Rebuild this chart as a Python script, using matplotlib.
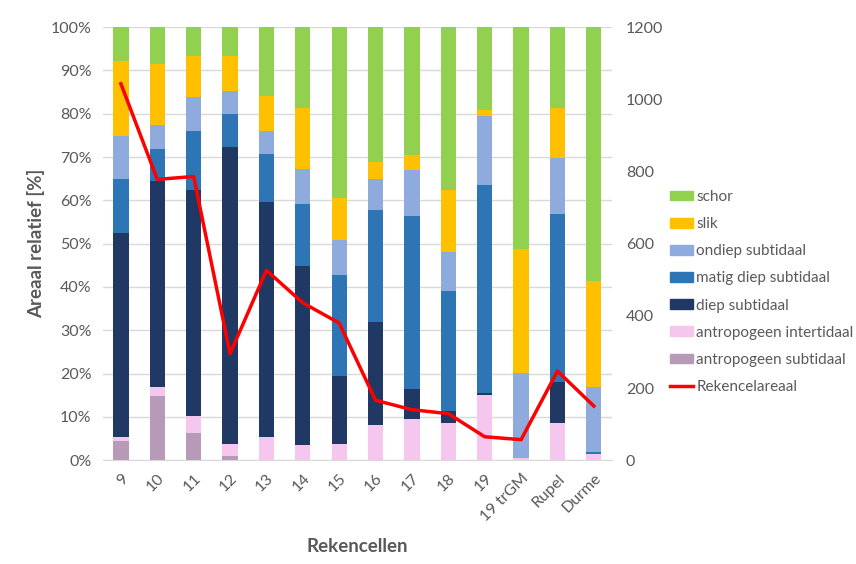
import matplotlib.pyplot as plt
import numpy as np
from matplotlib.patches import Patch
from matplotlib.lines import Line2D

plt.rcParams['font.family'] = ['Lato', 'DejaVu Sans']

cellen = ["9", "10", "11", "12", "13", "14", "15", "16", "17", "18", "19",
          "19 trGM", "Rupel", "Durme"]

# shares in percent, bottom to top
antro_sub = [4.5, 14.8, 6.2, 1.0, 0, 0, 0, 0, 0, 0, 0, 0, 0, 0]
antro_inter = [0.9, 2.1, 4.0, 2.8, 5.4, 3.5, 3.7, 8.2, 9.6, 8.7, 15.0, 0.5, 8.5, 1.5]
diep = [47.1, 47.5, 52.1, 68.4, 54.2, 41.4, 15.7, 23.7, 6.9, 2.6, 0.5, 0, 9.6, 0]
matig = [12.5, 7.5, 13.7, 7.8, 11.0, 14.3, 23.3, 25.8, 39.8, 27.7, 48.1, 0, 38.8, 0.3]
ondiep = [9.8, 5.6, 7.8, 5.2, 5.3, 8.0, 8.2, 7.3, 10.7, 9.1, 15.9, 19.7, 12.9, 15.1]
slik = [17.4, 14.0, 9.6, 8.2, 8.1, 14.2, 9.6, 3.8, 3.5, 14.2, 1.4, 28.6, 11.5, 24.4]
schor = [7.8, 8.5, 6.6, 6.6, 16.0, 18.6, 39.5, 31.2, 29.5, 37.7, 19.1, 51.2, 18.7, 58.7]

areaal = [1043, 778, 786, 295, 526, 436, 380, 166, 140, 129, 65, 57, 247, 150]

lagen = [
    ("antropogeen subtidaal", antro_sub, "#B799B8"),
    ("antropogeen intertidaal", antro_inter, "#F5C6EE"),
    ("diep subtidaal", diep, "#203864"),
    ("matig diep subtidaal", matig, "#2E75B6"),
    ("ondiep subtidaal", ondiep, "#8FAADC"),
    ("slik", slik, "#FFC000"),
    ("schor", schor, "#92D050"),
]

grey = "#595959"
fig = plt.figure(figsize=(8.56, 5.64), dpi=100)
ax = fig.add_axes([0.12, 0.184, 0.595, 0.768])
x = np.arange(len(cellen))

bottom = np.zeros(len(cellen))
for naam, vals, kleur in lagen:
    vals = np.array(vals) / 100
    ax.bar(x, vals, 0.42, bottom=bottom, color=kleur, zorder=2)
    bottom += vals

ax.set_ylim(0, 1)
ax.set_xlim(-0.5, len(cellen) - 0.5)
ax.set_yticks(np.arange(0, 1.01, 0.1))
ax.set_yticklabels([f"{int(round(v*100))}%" for v in np.arange(0, 1.01, 0.1)])
ax.yaxis.grid(True, color="#D9D9D9", lw=1, zorder=0)
ax.set_xticks(x)
ax.set_xticklabels(cellen, rotation=45, ha="right", rotation_mode="anchor")
for s in ["top", "right", "left"]:
    ax.spines[s].set_visible(False)
ax.spines["bottom"].set_color("#D9D9D9")
ax.tick_params(length=0, labelsize=11.5, colors=grey, pad=8)
ax.set_ylabel("Areaal relatief [%]", fontsize=13.5, fontweight="bold", color=grey)
ax.set_xlabel("Rekencellen", fontsize=13.5, fontweight="bold", color=grey, labelpad=10)

ax2 = ax.twinx()
ax2.plot(x, areaal, color="red", lw=2.5, zorder=5)
ax2.set_ylim(0, 1200)
ax2.set_yticks(range(0, 1201, 200))
for s in ax2.spines.values():
    s.set_visible(False)
ax2.tick_params(length=0, labelsize=11.5, colors=grey, pad=10)

handles = [Patch(color=k, label=n) for n, v, k in lagen[::-1]]
handles.append(Line2D([0], [0], color="red", lw=2.5, label="Rekencelareaal"))
fig.legend(handles=handles, loc="upper left", bbox_to_anchor=(0.776, 0.674),
           frameon=False, fontsize=11, labelcolor=grey, handlelength=1.5,
           handleheight=0.6, handletextpad=0.2, labelspacing=0.86,
           borderaxespad=0.0)

fig.savefig("out.png", dpi=100)
